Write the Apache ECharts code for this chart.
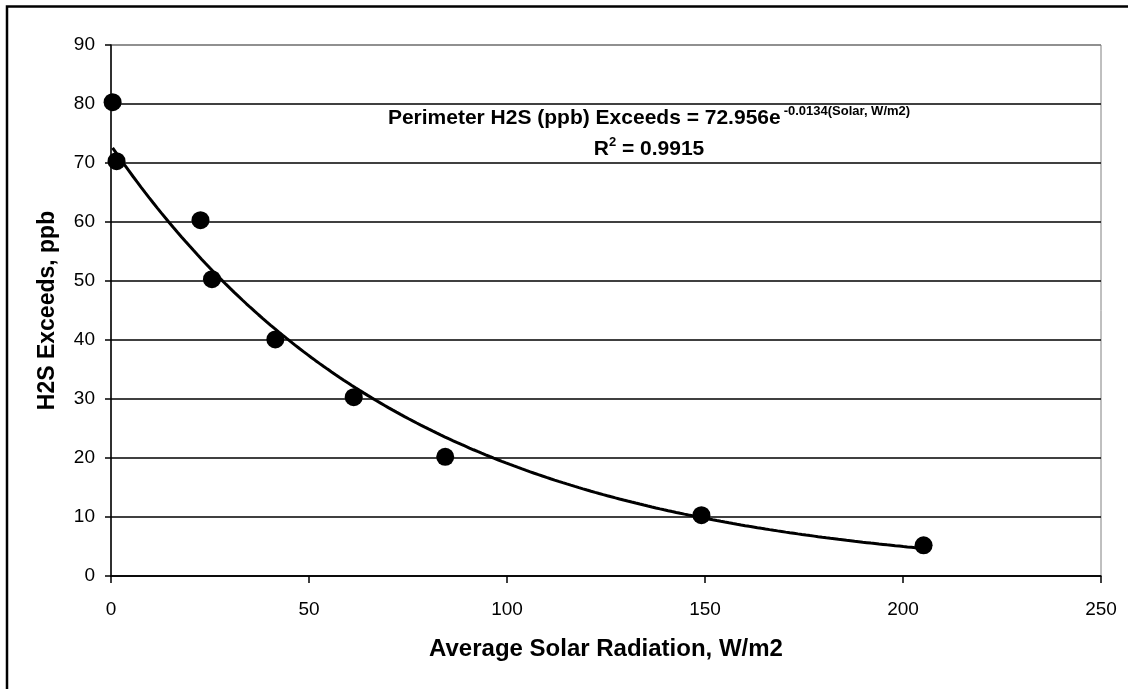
<!DOCTYPE html>
<html>
<head>
<meta charset="utf-8">
<script src="https://cdn.jsdelivr.net/npm/echarts@6/dist/echarts.min.js"></script>
<style>
html,body{margin:0;padding:0;background:#fff;}
#chart{width:1134px;height:689px;}
</style>
</head>
<body>
<div id="chart"></div>
<script>
const solarRadiation = [0.4, 1.4, 22.6, 25.5, 41.5, 61.3, 84.4, 149.1, 205.2];
const h2sExceeds = [80.3, 70.3, 60.3, 50.3, 40.1, 30.3, 20.2, 10.3, 5.2];
// Trendline coefficients as printed on the chart
const trendA = 72.956;
const trendB = -0.0134;
const rSquared = '0.9915';
const xTicks = [0, 50, 100, 150, 200, 250];
const yTicks = [0, 10, 20, 30, 40, 50, 60, 70, 80, 90];

const FONT = "'Liberation Sans', Arial, sans-serif";

const scatterData = solarRadiation.map((x, i) => [x, h2sExceeds[i]]);
const xMin = Math.min(...solarRadiation), xMax = Math.max(...solarRadiation);
const trendData = [];
for (let x = xMin; x <= xMax + 1e-9; x += (xMax - xMin) / 200) {
  trendData.push([x, trendA * Math.exp(trendB * x)]);
}

const chart = echarts.init(document.getElementById('chart'), null, {renderer: 'canvas'});
const splitColors = yTicks.map((t, i) => i === yTicks.length - 1 ? '#808080' : '#000000');

chart.setOption({
  animation: false,
  backgroundColor: '#ffffff',
  grid: {left: 111, right: 33, top: 45, bottom: 113, show: true, borderColor: '#808080', borderWidth: 1, backgroundColor: 'transparent'},
  xAxis: {
    type: 'value', min: xTicks[0], max: xTicks[xTicks.length - 1], interval: 50,
    name: 'Average Solar Radiation, W/m2', nameLocation: 'middle', nameGap: 61,
    nameTextStyle: {fontFamily: FONT, fontSize: 24, fontWeight: 'bold', color: '#000'},
    axisLine: {show: true, onZero: false, lineStyle: {color: '#000', width: 1.5}},
    axisTick: {show: true, inside: false, length: 7, lineStyle: {color: '#000', width: 1.5}},
    axisLabel: {fontFamily: FONT, fontSize: 19, color: '#000', margin: 24},
    splitLine: {show: false}
  },
  yAxis: {
    type: 'value', min: yTicks[0], max: yTicks[yTicks.length - 1], interval: 10,
    name: 'H2S Exceeds, ppb', nameLocation: 'middle', nameGap: 52, nameRotate: 90,
    nameTextStyle: {fontFamily: FONT, fontSize: 23, fontWeight: 'bold', color: '#000'},
    axisLine: {show: true, onZero: false, lineStyle: {color: '#000', width: 1.5}},
    axisTick: {show: true, inside: false, length: 6, lineStyle: {color: '#000', width: 1.5}},
    axisLabel: {fontFamily: FONT, fontSize: 19, color: '#000', margin: 16},
    splitLine: {show: true, lineStyle: {color: splitColors, width: 1.5}}
  },
  series: [
    {
      type: 'line', data: trendData, showSymbol: false, symbol: 'none', smooth: false,
      lineStyle: {color: '#000', width: 3}, z: 3, silent: true
    },
    {
      type: 'scatter', data: scatterData, symbol: 'circle', symbolSize: 18,
      itemStyle: {color: '#000', opacity: 1}, z: 4
    }
  ],
  graphic: [
    {
      type: 'polyline', silent: true, z: 10,
      shape: {points: [[7, 700], [7, 6.5], [1128, 6.5]]},
      style: {stroke: '#000', lineWidth: 2.5, fill: null}
    },
    {
      type: 'text', x: 649, y: 107, z: 10,
      style: {
        text: '{m|Perimeter H2S (ppb) Exceeds = ' + trendA.toFixed(3) + 'e}{s|' + trendB + '(Solar, W/m2)}',
        align: 'center', verticalAlign: 'top',
        rich: {
          m: {fontFamily: FONT, fontSize: 21, fontWeight: 'bold', fill: '#000', lineHeight: 22},
          s: {fontFamily: FONT, fontSize: 13, fontWeight: 'bold', fill: '#000', padding: [0, 0, 14, 3], lineHeight: 22}
        }
      }
    },
    {
      type: 'text', x: 649, y: 138, z: 10,
      style: {
        text: '{m|R}{s|2}{m| = ' + rSquared + '}',
        align: 'center', verticalAlign: 'top',
        rich: {
          m: {fontFamily: FONT, fontSize: 21, fontWeight: 'bold', fill: '#000', lineHeight: 22},
          s: {fontFamily: FONT, fontSize: 13, fontWeight: 'bold', fill: '#000', padding: [0, 0, 14, 0], lineHeight: 22}
        }
      }
    }
  ]
});
</script>
</body>
</html>
